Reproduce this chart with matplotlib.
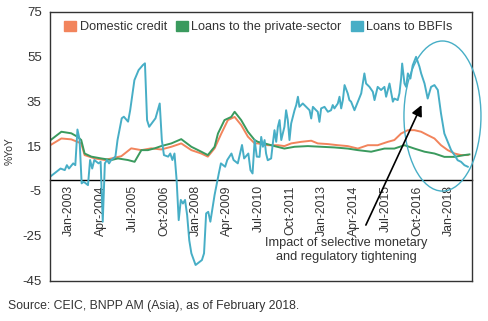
import matplotlib
matplotlib.use("Agg")
import matplotlib.pyplot as plt
from matplotlib.patches import Ellipse, Patch

plt.rcParams['font.family'] = ['Liberation Sans', 'DejaVu Sans']
plt.rcParams['axes.unicode_minus'] = False

# x values: months since Apr-2002
dom_m = [0.3, 5.4, 10.1, 14.8, 16.4, 21.2, 25.9, 29.1, 33.8, 38.5, 43.3, 48.0, 52.7, 57.5,
         62.2, 67.0, 71.7, 74.8, 78.0, 81.2, 84.3, 87.5, 90.6, 93.8, 97.0, 98.5, 103.2,
         108.0, 111.1, 114.3, 119.0, 123.8, 126.9, 131.7, 136.4, 141.1, 145.9, 150.6,
         155.3, 160.1, 163.2, 166.4, 169.6, 172.7, 175.9, 179.0, 182.2, 185.3, 188.5,
         191.7, 194.8, 198.0]
dom_v = [15.5, 18.4, 18.0, 16.2, 11.0, 9.5, 8.8, 9.5, 10.5, 14.0, 13.2, 14.0, 13.5, 14.7,
         16.2, 13.2, 11.7, 10.3, 14.0, 20.6, 26.6, 28.0, 24.4, 19.2, 16.2, 16.2, 15.4,
         15.4, 15.0, 16.2, 16.9, 17.4, 16.2, 15.9, 15.4, 15.0, 13.9, 15.4,
         15.4, 16.9, 17.7, 20.6, 22.1, 22.1, 21.4, 19.9, 18.4, 15.4, 13.2,
         11.7, 11.0, 11.0]

priv_m = [0.3, 5.4, 10.1, 13.3, 14.8, 16.4, 19.6, 24.3, 29.1, 32.2, 36.9, 40.1, 43.3, 46.4,
          49.6, 52.7, 57.5, 62.2, 67.0, 71.7, 74.8, 78.0, 79.6, 82.7, 85.9, 87.5, 90.6,
          93.8, 97.0, 98.5, 101.7, 106.4, 111.1, 115.9, 122.2, 128.5, 134.8, 141.1,
          145.9, 152.2, 158.5, 163.2, 168.0, 172.7, 177.5, 182.2, 186.9, 191.7, 196.4, 198.8]
priv_v = [17.7, 21.4, 20.7, 19.0, 17.7, 11.7, 10.3, 9.5, 8.8, 9.5, 8.8, 8.0, 13.2, 13.2,
          14.0, 15.0, 16.2, 18.1, 14.7, 12.5, 11.0, 14.7, 20.6, 26.6, 28.0, 30.3, 26.6,
          21.4, 17.7, 16.9, 16.2, 15.0, 13.9, 14.7, 15.0, 14.7, 14.4, 13.9,
          13.2, 12.5, 13.9, 13.9, 15.4, 13.9, 12.5, 11.7, 10.2, 10.2, 11.0, 11.3]

bbfi_m = [0, 2, 5, 7, 8, 9, 11, 12, 13, 14, 15, 16, 18, 19, 20, 21, 23, 24, 25, 26, 27,
          28, 29, 31, 32, 34, 35, 37, 38, 40, 42, 44, 45, 46, 47, 50, 52, 53, 54, 56, 57,
          58, 59, 60, 61, 62, 63, 64, 65, 66, 67, 69, 72, 73, 74, 75, 76, 78, 80, 81,
          83, 84, 86, 87, 89, 91, 92, 94, 95, 96, 97, 98,
          99.3, 100.1, 100.9, 101.7, 102.4, 103.2, 104.8, 105.6, 106.4, 107.2, 108.0,
          108.8, 109.6, 111.1, 111.9, 112.7, 113.5, 114.3, 115.9, 116.7, 117.5, 118.2,
          119.8, 121.4, 123.0, 123.8, 124.6, 126.1, 126.9, 127.7, 128.5, 130.1, 131.7,
          133.2, 134.0, 134.8, 136.4, 137.2, 138.0, 138.8, 139.6, 141.1, 141.9, 142.7,
          144.3, 145.9, 147.5, 149.0, 149.8, 151.4, 153.0, 153.8, 155.3, 156.9, 158.5,
          159.3, 160.9, 162.5, 163.2, 164.8, 165.6, 166.4, 166.9, 168.0, 168.8, 169.6,
          170.8, 171.9, 173.5, 175.1, 175.9, 177.5, 179.0, 180.6, 182.2, 183.8, 185.3,
          186.9, 188.5, 190.1, 191.7, 193.2, 194.8, 196.4, 198.0]
bbfi_v = [1.3, 2.8, 5.0, 4.3, 6.5, 5.0, 7.3, 6.5, 22.4, 18.0, -1.6, -0.9, -2.4, 8.8, 5.0,
          8.8, 7.3, 8.0, -18.7, 7.3, 8.8, 7.3, 8.8, 10.3, 17.7, 27.4, 28.1, 25.9, 31.0,
          44.4, 48.9, 51.1, 51.9, 26.6, 23.6, 27.4, 34.0, 17.7, 11.0, 10.3, 11.7, 8.8,
          11.7, 0.0, -18.0, -9.0, -10.6, -9.0, -15.8, -27.0, -32.8, -38.0, -35.8, -32.8,
          -15.0, -14.3, -18.7, -6.8, 2.8, 7.3, 5.8, 8.8, 11.7, 8.8, 7.3, 15.5, 9.5, 11.7,
          4.3, 2.8, 17.7, 10.3,
          10.2, 19.1, 14.7, 17.7, 11.7, 8.7, 9.5, 16.2, 22.1, 16.9, 23.6,
          26.6, 17.7, 23.6, 31.0, 26.6, 17.7, 25.1, 31.0, 33.3, 37.0, 32.5,
          34.0, 32.5, 31.0, 27.3, 32.5, 31.0, 30.3, 25.8, 31.8, 32.5, 30.3,
          31.0, 33.3, 31.8, 34.0, 37.0, 31.8, 35.5, 42.2, 38.5, 35.5, 34.8,
          31.0, 34.8, 38.5, 47.4, 42.9, 41.4, 39.2, 35.5, 41.4, 40.0, 41.4,
          37.0, 42.9, 34.8, 36.2, 35.5, 38.5, 45.1, 51.8, 42.9, 41.4, 47.4,
          45.1, 51.0, 54.8, 50.4, 47.4, 42.9, 36.2, 41.4, 42.2, 40.0, 29.6,
          20.6, 16.9, 13.2, 11.0, 8.7, 8.0, 6.5, 5.8]

tick_months = [9, 24, 39, 54, 69, 84, 99, 114, 129, 144, 159, 174, 189]
tick_labels = ['Jan-2003', 'Apr-2004', 'Jul-2005', 'Oct-2006', 'Jan-2008', 'Apr-2009',
               'Jul-2010', 'Oct-2011', 'Jan-2013', 'Apr-2014', 'Jul-2015', 'Oct-2016',
               'Jan-2018']
y_ticks = [75, 55, 35, 15, -5, -25, -45]

c_dom = '#F2845C'
c_priv = '#3A9A5E'
c_bbfi = '#47AEC6'
txt = '#333333'

fig = plt.figure(figsize=(4.89, 3.21), dpi=100)
ax = fig.add_axes([50/489, 1-280.7/321, (472-50)/489, (280.7-11.5)/321])

ax.plot(dom_m, dom_v, color=c_dom, lw=1.4)
ax.plot(priv_m, priv_v, color=c_priv, lw=1.4)
ax.plot(bbfi_m, bbfi_v, color=c_bbfi, lw=1.4)

ax.set_xlim(0, 200)
ax.set_ylim(-45, 75)
ax.set_yticks(y_ticks)
ax.tick_params(axis='y', length=0, pad=6, labelsize=9.5, labelcolor=txt)
ax.set_xticks([])
for s in ax.spines.values():
    s.set_color('#333333')
    s.set_linewidth(1.0)

sec = ax.secondary_xaxis(45/120)
sec.set_xticks(tick_months, tick_labels, rotation=90)
sec.tick_params(length=0, pad=4, labelsize=8.8, labelcolor=txt)
sec.spines['bottom'].set_color('black')
sec.spines['bottom'].set_linewidth(1.0)

ax.set_ylabel('%YoY', fontsize=7.5, color=txt)
ax.yaxis.set_label_coords(-0.085, 0.48)

handles = [Patch(color=c_dom), Patch(color=c_priv), Patch(color=c_bbfi)]
ax.legend(handles, ['Domestic credit', 'Loans to the private-sector', 'Loans to BBFIs'],
          loc='upper left', bbox_to_anchor=(0.022, 0.985), ncol=3, frameon=False,
          fontsize=9.1, handlelength=0.95, handleheight=0.95, handletextpad=0.25,
          columnspacing=0.75, borderaxespad=0, labelcolor=txt)

ell = Ellipse((186, 28.4), 36.5, 66.9, fill=False, edgecolor=c_bbfi, lw=1.0,
              clip_on=False, zorder=5)
ax.add_patch(ell)

ax.annotate('', xy=(176.1, 33.3), xytext=(149.7, -20.2),
            arrowprops=dict(arrowstyle='-|>', color='black', lw=1.2, mutation_scale=16,
                            shrinkA=0, shrinkB=0), zorder=6)
ax.text(140.5, -25.5, 'Impact of selective monetary\nand regulatory tightening',
        ha='center', va='top', fontsize=9.2, color=txt, linespacing=1.2)

fig.text(8/489, 1-306/321, 'Source: CEIC, BNPP AM (Asia), as of February 2018.',
         fontsize=8.8, color=txt, va='center', ha='left')

fig.savefig('out.png', dpi=100)
